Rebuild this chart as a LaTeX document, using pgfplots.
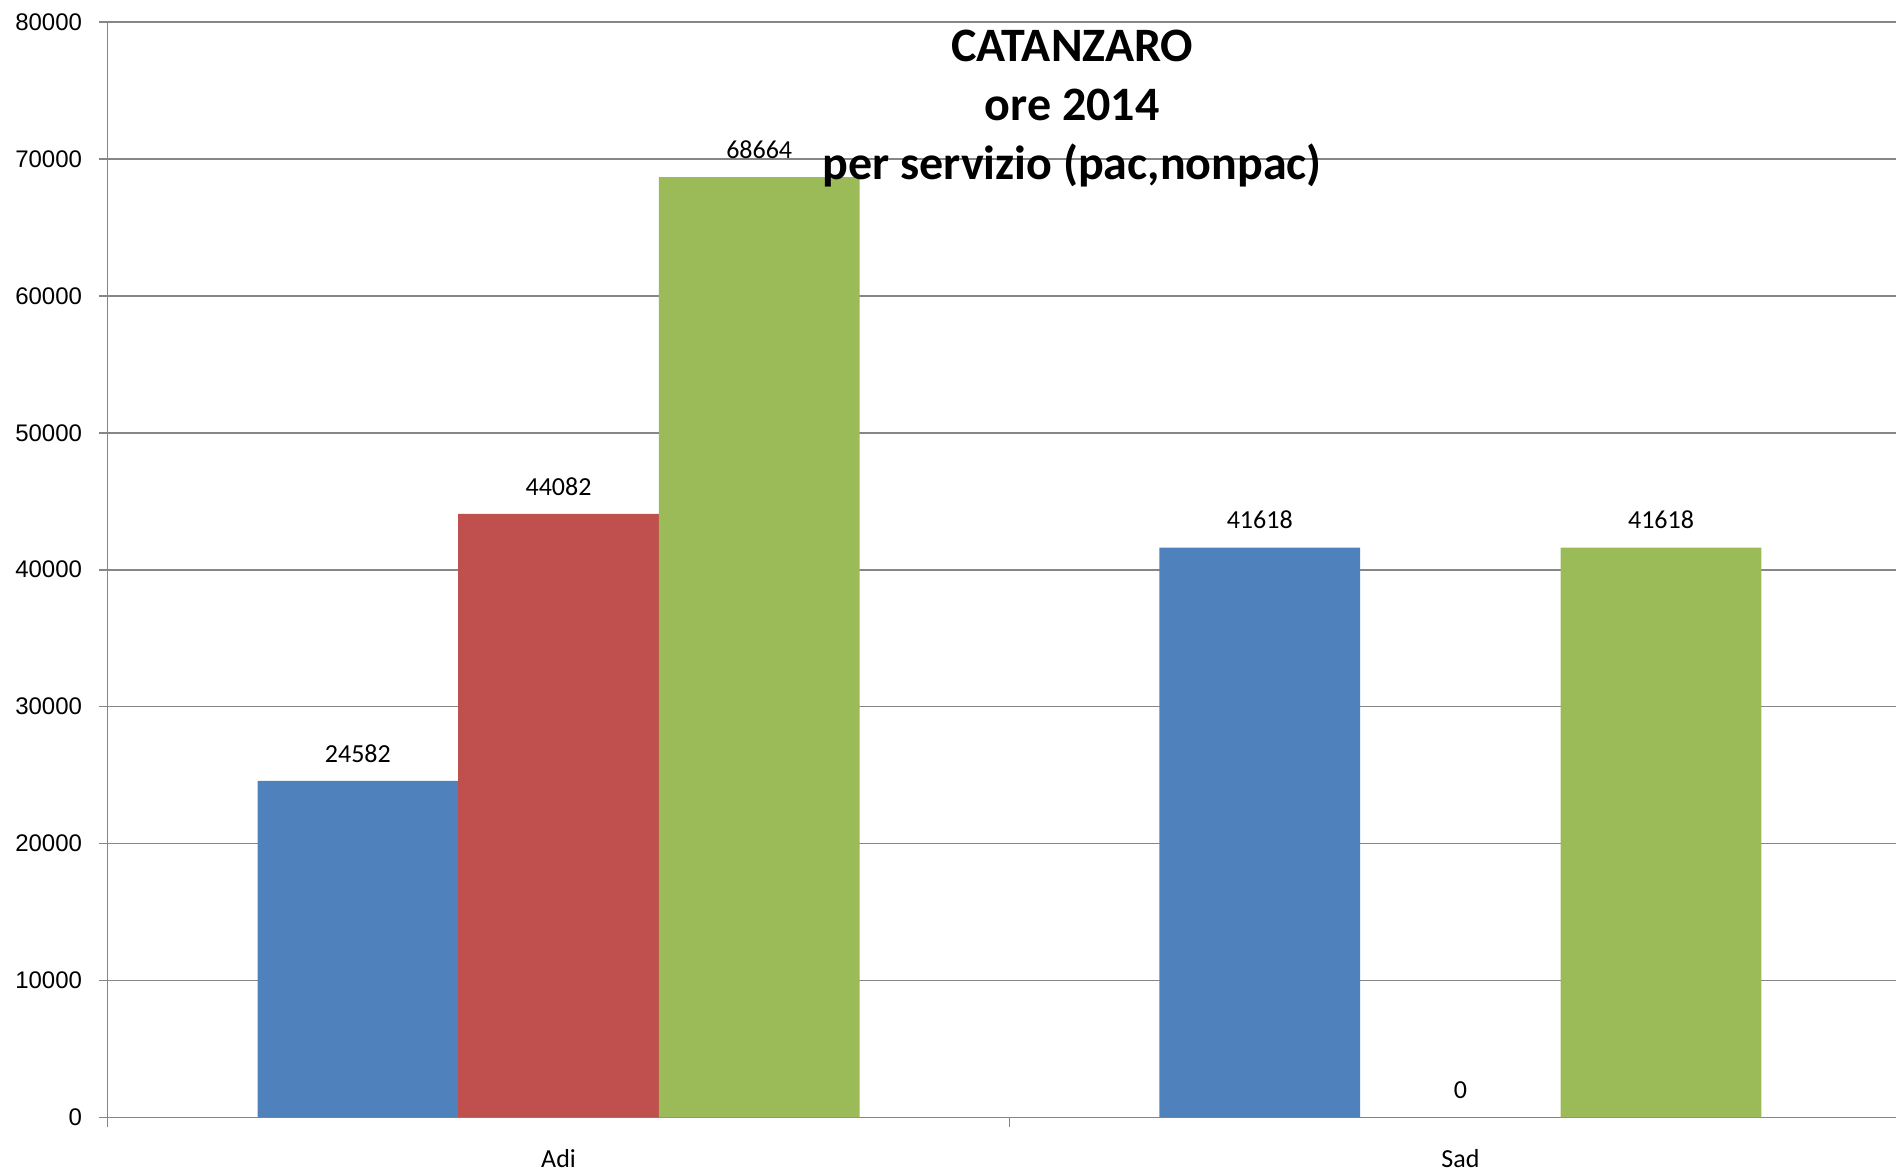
\documentclass[border=0pt]{standalone}
\usepackage{pgfplots}
\pgfplotsset{compat=1.18}
\usepackage{fontspec}
\setmainfont{Carlito}
\newfontfamily\arialf{Liberation Sans}
\definecolor{cblue}{HTML}{4F81BD}
\definecolor{cred}{HTML}{C0504D}
\definecolor{cgreen}{HTML}{9BBB59}
\definecolor{cgrid}{HTML}{868686}
\begin{document}
\begin{tikzpicture}
\begin{axis}[
  name=ax,
  scale only axis,
  width=894.2pt, height=547.75pt,
  xmin=-0.5, xmax=1.483,
  ymin=0, ymax=80000,
  ytick={0,10000,...,80000},
  scaled y ticks=false,
  yticklabel style={font=\fontsize{12}{14}\arialf, xshift=-5pt},
  /pgf/number format/assume math mode=true,
  /pgf/number format/set thousands separator={},
  xtick={0,1},
  xticklabels={Adi,Sad},
  xticklabel style={font=\fontsize{13}{15}\selectfont, yshift=-8pt},
  x tick style={draw=none},
  extra x ticks={-0.5,0.5},
  extra x tick labels={},
  extra x tick style={x tick style={draw=cgrid, line width=0.8pt}, major tick length=5pt, grid=none},
  axis lines=left,
  axis line style={-, draw=cgrid, line width=0.8pt},
  tick align=outside,
  major tick length=4.25pt,
  y tick style={draw=cgrid, line width=0.8pt},
  ymajorgrids,
  grid style={draw=cgrid, line width=0.8pt},
  clip=false,
  ybar=0pt,
  bar width=0.2225,
  nodes near coords,
  nodes near coords style={font=\fontsize{13}{15}\selectfont, anchor=south, inner sep=0pt, yshift=9pt},
]
\addplot[fill=cblue, draw=none, bar shift=-0.2225] coordinates {(0,24582) (1,41618)};
\addplot[fill=cred, draw=none, bar shift=0] coordinates {(0,44082) (1,0)};
\addplot[fill=cgreen, draw=none, bar shift=0.2225] coordinates {(0,68664) (1,41618)};
\node[align=center, font=\fontsize{24}{29.6}\selectfont\bfseries, anchor=center] at (axis cs:0.5696,73700) {CATANZARO\\ore 2014\\per servizio (pac,nonpac)};
\end{axis}
\pgfresetboundingbox
\path ([shift={(-53.8pt,-27.75pt)}]ax.south west) rectangle ([yshift=11pt]ax.north east);
\end{tikzpicture}
\end{document}
